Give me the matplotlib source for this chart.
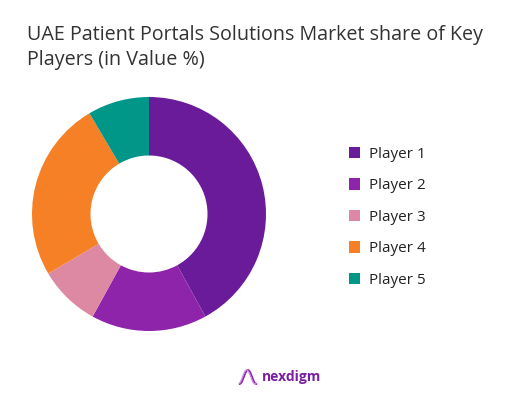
import matplotlib
matplotlib.use("Agg")
import matplotlib.pyplot as plt
import numpy as np
from matplotlib.patches import Patch

# ---- data ---------------------------------------------------------------- #
players = ["Player 1", "Player 2", "Player 3", "Player 4", "Player 5"]
shares = [42.0, 16.0, 8.5, 25.0, 8.5]
colors = ["#6A1B9A", "#8E24AA", "#DE89A3", "#F58025", "#009688"]
title = "UAE Patient Portals Solutions Market share of Key\nPlayers (in Value %)"

plt.rcParams.update({"font.family": ["Open Sans", "DejaVu Sans"]})
fig = plt.figure(figsize=(5.26, 4.17), dpi=100)
fig.patch.set_facecolor("white")

# donut: centre ~ (149, 214) px, radius ~117 px
ax = fig.add_axes([(149 - 120) / 526, 1 - (214 + 120) / 417, 240 / 526, 240 / 417])
ax.pie(shares, colors=colors, startangle=90, counterclock=False,
       radius=117 / 120, wedgeprops=dict(width=0.5 * 117 / 120, edgecolor="none"))
ax.set_aspect("equal")
ax.set_xlim(-1, 1); ax.set_ylim(-1, 1)
ax.axis("off")

fig.text(27 / 526, 1 - 25 / 417, title, ha="left", va="top", fontsize=14.2,
         color="#333333", linespacing=1.35)

handles = [Patch(facecolor=c, edgecolor="none") for c in colors]
fig.legend(handles, players, loc="upper left",
           bbox_to_anchor=(335 / 526, 1 - 133 / 417), frameon=False,
           fontsize=11, labelspacing=1.08, handlelength=0.75, handleheight=0.75,
           handletextpad=0.6, labelcolor="#222222")

# brand mark at the bottom
lx = fig.add_axes([238 / 526, 1 - 388 / 417, 20 / 526, 22 / 417])
t = np.linspace(0, 1, 60)
lx.plot(t, 0.5 + 0.38 * np.sin(2 * np.pi * (t - 0.25)), color="#8E24AA", lw=1.3)
lx.plot(t, 0.5 + 0.38 * np.sin(2 * np.pi * (t - 0.25) + 0.5), color="#C58BE0", lw=0.9)
lx.set_xlim(-0.1, 1.1); lx.set_ylim(-0.1, 1.1)
lx.axis("off")
fig.text(262 / 526, 1 - 377 / 417, "nexdigm", ha="left", va="center",
         fontsize=10, color="#7B1FA2", fontweight="bold")

fig.savefig("out.png", dpi=100, facecolor="white")
